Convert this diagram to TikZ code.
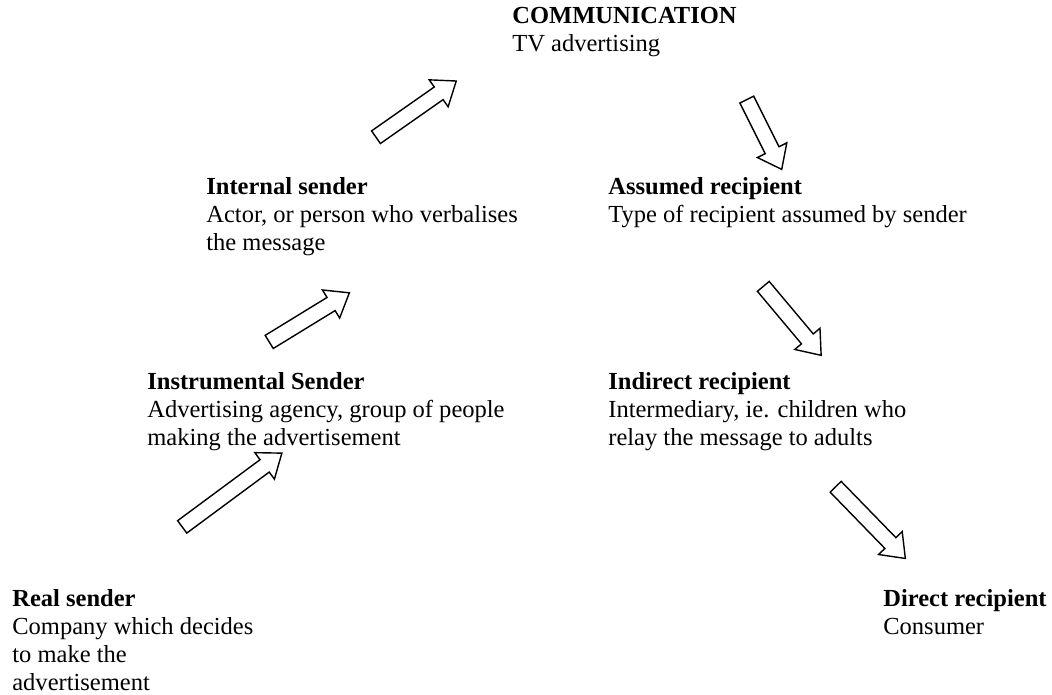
\documentclass[tikz,border=0pt]{standalone}
\usepackage{fontspec}
\setmainfont{Liberation Serif}
\usetikzlibrary{shapes.arrows}

\tikzset{
	txt/.style={anchor=north west,inner sep=0pt,align=left,font=\fontsize{14}{16.1}\selectfont},
	blockarrow/.style={single arrow,draw,line width=0.8pt,inner xsep=0pt,inner ysep=4pt,
		single arrow head extend=5pt,single arrow tip angle=75,single arrow head indent=0pt}
}

\begin{document}
\begin{tikzpicture}[x=0.571pt,y=-0.571pt]
		\useasboundingbox (0,0) rectangle (1052,695);
		% text blocks
		\node[txt] (comm) at (512,7) {\textbf{COMMUNICATION}\\TV advertising};
		\node[txt] (internal) at (206,177) {\textbf{Internal sender}\\Actor, or person who verbalises\\the message};
		\node[txt] (assumed) at (608,177) {\textbf{Assumed recipient}\\Type of recipient assumed by sender};
		\node[txt] (instr) at (147,372) {\textbf{Instrumental Sender}\\Advertising agency, group of people\\making the advertisement};
		\node[txt] (indirect) at (608,372) {\textbf{Indirect recipient}\\Intermediary, ie. children who\\relay the message to adults};
		\node[txt] (real) at (12,589) {\textbf{Real sender}\\Company which decides\\to make the\\advertisement};
		\node[txt] (direct) at (883,589) {\textbf{Direct recipient}\\Consumer};
		% arrows
		\node[blockarrow,minimum height=124*0.571pt,rotate=36.5] (a1) at (228,493) {};
		\node[blockarrow,minimum height=94*0.571pt,rotate=31.5] (a2) at (305,320) {};
		\node[blockarrow,minimum height=98*0.571pt,rotate=35] (a3) at (412,112) {};
		\node[blockarrow,minimum height=78*0.571pt,rotate=-63.4] (a4) at (762,130) {};
		\node[blockarrow,minimum height=90*0.571pt,rotate=-50] (a5) at (789,317) {};
		\node[blockarrow,minimum height=100*0.571pt,rotate=-45.8] (a6) at (867,519) {};
	\end{tikzpicture}
\end{document}
